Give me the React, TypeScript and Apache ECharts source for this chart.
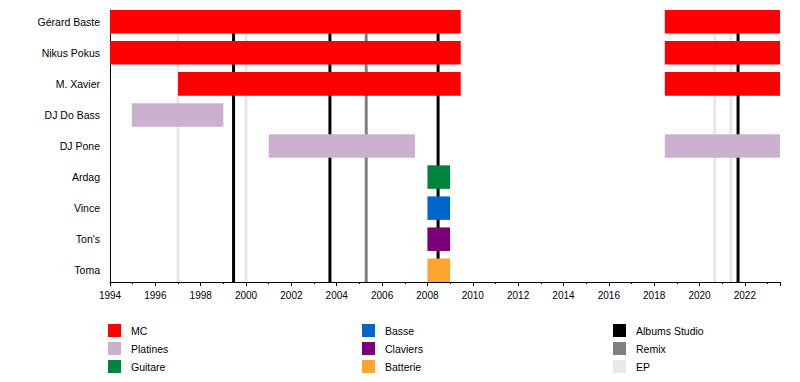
import React, { useEffect, useRef } from "react";
import * as echarts from "echarts";

// Members, top to bottom
const members = ["Gérard Baste", "Nikus Pokus", "M. Xavier", "DJ Do Bass", "DJ Pone", "Ardag", "Vince", "Ton's", "Toma"];

// Roles and colours
const roleNames = ["MC", "Platines", "Guitare", "Basse", "Claviers", "Batterie"];
const roleColors = ["#ff0000", "#cbb1cf", "#00843d", "#0066cc", "#7a0078", "#ffa42d"];

// Periods: [member index, start, end]
const mcPeriods = [
  [0, 1994.0, 2009.47], [0, 2018.47, 2023.55],
  [1, 1994.0, 2009.47], [1, 2018.47, 2023.55],
  [2, 1997.0, 2009.47], [2, 2018.47, 2023.55],
];
const platinesPeriods = [
  [3, 1994.96, 1999.0],
  [4, 2001.0, 2007.45], [4, 2018.47, 2023.55],
];
const guitarePeriods = [[5, 2008.0, 2009.0]];
const bassePeriods = [[6, 2008.0, 2009.0]];
const clavierPeriods = [[7, 2008.0, 2009.0]];
const batteriePeriods = [[8, 2008.0, 2009.0]];
const rolePeriods = [mcPeriods, platinesPeriods, guitarePeriods, bassePeriods, clavierPeriods, batteriePeriods];

// Release lines
const lineNames = ["Albums Studio", "Remix", "EP"];
const lineColors = ["#000000", "#808080", "#e8e8e8"];
const albumYears = [1999.45, 2003.7, 2008.47, 2021.7];
const remixYears = [2005.3];
const epYears = [1997.0, 2000.0, 2020.67, 2021.38];
const lineYears = [albumYears, remixYears, epYears];

const xMin = 1994;
const xMax = 2023.55;
const rowPad = 0.378;
const barHeight = 0.757;

export default function App() {
  const ref = useRef<HTMLDivElement>(null);
  useEffect(() => {
    if (!ref.current) return;
    const chart = echarts.init(ref.current, null, { renderer: "svg" });
    const font = "Liberation Sans, Arial, sans-serif";

    const barSeries = roleNames.map((name, k) => ({
      name,
      type: "custom",
      z: 3,
      itemStyle: { color: roleColors[k] },
      encode: { x: [1, 2], y: 0 },
      data: rolePeriods[k],
      renderItem: (params: any, api: any) => {
        const row = api.value(0);
        const p0 = api.coord([api.value(1), row]);
        const p1 = api.coord([api.value(2), row]);
        const h = api.size([0, barHeight])[1];
        return {
          type: "rect",
          shape: { x: p0[0], y: p0[1] - h / 2, width: p1[0] - p0[0], height: h },
          style: { fill: roleColors[k] },
        };
      },
    }));

    const lineSeries = lineNames.map((name, k) => ({
      name,
      type: "custom",
      z: 1,
      itemStyle: { color: lineColors[k] },
      encode: { x: 0 },
      data: lineYears[k].map((v) => [v]),
      renderItem: (params: any, api: any) => {
        const yr = api.value(0);
        const top = api.coord([yr, -rowPad]);
        const bot = api.coord([yr, members.length - 1 + rowPad]);
        return {
          type: "rect",
          shape: { x: top[0] - 1.5, y: top[1], width: 3, height: bot[1] - top[1] },
          style: { fill: lineColors[k] },
        };
      },
    }));

    const legendBase = {
      orient: "vertical",
      top: 324,
      padding: 0,
      height: 58,
      icon: "rect",
      itemWidth: 13,
      itemHeight: 13,
      itemGap: 5,
      selectedMode: false,
      textStyle: { fontFamily: font, fontSize: 10.5, color: "#000", padding: [0, 0, 0, 5] },
    };

    chart.setOption({
      animation: false,
      backgroundColor: "#ffffff",
      textStyle: { fontFamily: font },
      grid: { left: 110, right: 20, top: 10, bottom: 100, containLabel: false },
      xAxis: {
        type: "value",
        min: xMin,
        max: xMax,
        interval: 2,
        splitLine: { show: false },
        axisLine: { show: true, onZero: false, lineStyle: { color: "#000", width: 1 } },
        axisTick: { show: true, length: 4, lineStyle: { color: "#000" } },
        minorTick: { show: true, splitNumber: 2, length: 2, lineStyle: { color: "#000" } },
        axisLabel: {
          show: true,
          margin: 8,
          fontSize: 10,
          color: "#000",
          fontFamily: font,
          showMaxLabel: false,
          formatter: (v: number) => (Number.isInteger(v) ? String(v) : ""),
        },
      },
      yAxis: {
        type: "value",
        inverse: true,
        min: -rowPad,
        max: members.length - 1 + rowPad,
        interval: 1,
        splitLine: { show: false },
        axisLine: { show: true, onZero: false, lineStyle: { color: "#000", width: 1 } },
        axisTick: { show: false },
        axisLabel: {
          show: true,
          margin: 10,
          fontSize: 10.5,
          color: "#000",
          fontFamily: font,
          showMaxLabel: false,
          verticalAlign: "top",
          lineHeight: 2 * rowPad * 31.06,
          formatter: (v: number) => {
            const i = Math.round(v + rowPad);
            return Math.abs(v + rowPad - i) < 0.01 && i >= 0 && i < members.length ? members[i] : "";
          },
        },
      },
      legend: [
        { ...legendBase, left: 108, data: roleNames.slice(0, 3) },
        { ...legendBase, left: 362, data: roleNames.slice(3, 6) },
        { ...legendBase, left: 613, data: lineNames },
      ],
      series: [...lineSeries, ...barSeries],
    });
    return () => chart.dispose();
  }, []);
  return (
    <div
      ref={ref}
      style={{ width: 800, height: 382, position: "absolute", left: 0, top: 0 }}
    />
  );
}
